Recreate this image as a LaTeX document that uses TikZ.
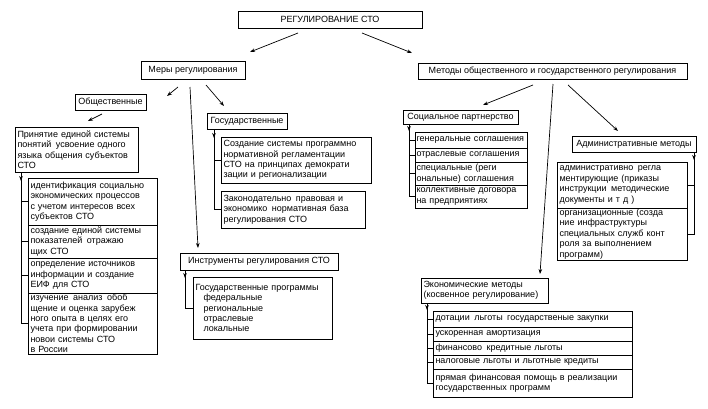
\documentclass[tikz,border=0pt]{standalone}
\usepackage{fontspec}
\setmainfont{Liberation Sans}
\usepackage{tikz}
\usetikzlibrary{calc}
\usetikzlibrary{arrows.meta}
\newcommand{\boxfont}{\fontsize{9}{10.4}\selectfont}
\tikzset{box/.style={draw, line width=0.8pt, inner xsep=2.5pt, inner ysep=1pt, outer sep=0pt, font=\boxfont},
head/.style={box, anchor=north west, align=center},
entry/.style={box, anchor=north west, align=left},
tight/.style={entry, inner xsep=1.5pt, text width=109},
arr/.style={-{Stealth[length=5pt,width=3.6pt]}, line width=0.7pt},
bracket/.style={line width=0.7pt}}

\begin{document}
\begin{tikzpicture}[x=1pt,y=1pt]
\useasboundingbox (0,0) rectangle (708,-408);
%\draw [help lines] (0,0) grid (708,-408);
% heads
\node[head, minimum width=184, minimum height=17] (reg) at (238,-11) {РЕГУЛИРОВАНИЕ СТО};
\node[head, minimum width=104, minimum height=18] (mery) at (141,-61) {Меры регулирования};
\node[head, minimum width=269, minimum height=16] (metody) at (418,-63) {Методы общественного и государственного регулирования};
\node[head, minimum width=71, minimum height=16] (obsh) at (75,-94) {Общественные};
\node[head, minimum width=80, minimum height=16] (gos) at (207,-113) {Государственные};
\node[head, minimum width=158, minimum height=17] (instr) at (180,-253) {Инструменты регулирования СТО};
\node[head, minimum width=115, minimum height=14] (soc) at (403,-110) {Социальное партнерство};
\node[head, minimum width=124, minimum height=16] (adm) at (572,-136) {Административные методы};
\node[entry, text width=122, minimum height=25] (econ) at (421,-278) {Экономические методы\\(косвенное регулирование)};
\node[entry, text width=118, minimum height=45] (prin) at (15,-127) {Принятие единой системы\\понятий\enspace усвоение одного\\языка общения субъектов\\СТО};

% public measures
\node[entry, text width=124, minimum height=47] (o1) at (28,-178) {идентификация социально\\экономических процессов\\с учетом интересов всех\\субъектов СТО};
\node[entry, text width=124, minimum height=33] (o2) at (28,-225) {создание единой системы\\показателей\enspace отражаю\\щих СТО};
\node[entry, text width=124, minimum height=35] (o3) at (28,-258) {определение источников\\информации и создание\\ЕИФ для СТО};
\node[entry, text width=124, minimum height=61] (o4) at (28,-293) {изучение\enspace анализ\enspace обоб\\щение и оценка зарубеж\\ного опыта в целях его\\учета при формировании\\новои системы СТО\\в России};

% state measures
\node[entry, text width=145, minimum height=46] (g1) at (221,-137) {Создание системы программно\\нормативной регламентации\\СТО на принципах демократи\\зации и регионализации};
\node[entry, text width=139, minimum height=37] (g2) at (221,-191) {Законодательно\enspace правовая и\\экономико\enspace нормативная база\\регулирования СТО};

% instruments
\node[entry, text width=134, minimum height=62] (i1) at (193,-277) {Государственные программы\\\hspace*{8pt}федеральные\\\hspace*{8pt}региональные\\\hspace*{8pt}отраслевые\\\hspace*{8pt}локальные};

% social partnership
\node[tight, minimum height=16] (s1) at (415,-132) {генеральные соглашения};
\node[tight, minimum height=14] (s2) at (415,-148) {отраслевые соглашения};
\node[tight, minimum height=23] (s3) at (415,-162) {специальные (реги\\ональные) соглашения};
\node[tight, minimum height=23] (s4) at (415,-185) {коллективные договора\\на предприятиях};

% administrative
\node[entry, text width=125, minimum height=46] (a1) at (557,-162) {административно\enspace регла\\ментирующие (приказы\\инструкции\enspace методические\\документы и т д )};
\node[entry, text width=125, minimum height=49] (a2) at (557,-208) {организационные (созда\\ние инфраструктуры\\специальных служб конт\\роля за выполнением\\программ)};

% economic
\node[entry, text width=194, minimum height=16] (e1) at (433,-311) {дотации\enspace льготы\enspace государственые закупки};
\node[entry, text width=194, minimum height=14] (e2) at (433,-327) {ускоренная амортизация};
\node[entry, text width=194, minimum height=14] (e3) at (433,-341) {финансово\enspace кредитные льготы};
\node[entry, text width=194, minimum height=14] (e4) at (433,-355) {налоговые льготы и льготные кредиты};
\node[entry, text width=194, minimum height=28] (e5) at (433,-369) {прямая финансовая помощь в реализации\\государственных программ};

% arrows between heads
\draw[arr] ($(reg.south)+(-32,-5)$) -- ($(mery.north east)+(5,9)$);
\draw[arr] ($(reg.south)+(32,-5)$) -- ($(metody.north west)+(-6,10)$);
\draw[arr] ($(mery.south)+(-15,-8)$) -- ($(obsh.north east)+(21,-2)$);
\draw[arr] ($(mery.south)+(13,-6)$) -- ($(gos.north west)+(17,7)$);
\draw[arr] ($(mery.south)+(-3,-8)$) -- ($(instr.north west)+(18,5)$);
\draw[arr] ($(obsh.south)+(-8.5,-4)$) -- ($(prin.north west)+(73,6)$);
\draw[arr] ($(metody.south)+(-19.5,-6)$) -- ($(soc.north)+(22.5,5)$);
\draw[arr] ($(metody.south)+(0.5,-5)$) -- ($(econ.north east)+(-8,4)$);
\draw[arr] ($(metody.south)+(15.5,-6)$) -- ($(adm.north west)+(46,5)$);

% brackets
\coordinate (bo) at ($(prin.south west)+(6,0)$);
\draw[bracket] (bo) |- (o4.west);
\foreach \n in {o1,o2,o3}
     \draw[bracket] (\n.west) -- (\n.west -| bo);
\draw[arr] (bo) -- ++(0,-9);

\coordinate (bg) at ($(gos.south west)+(7,0)$);
\draw[bracket] (bg) |- (g2.west);
\draw[bracket] (g1.west) -- (g1.west -| bg);
\draw[arr] (bg) -- ++(0,-9);

\coordinate (bi) at ($(instr.south west)+(5,0)$);
\draw[bracket] (bi) |- (i1.west);
\draw[arr] (bi) -- ++(0,-8);

\coordinate (bs) at ($(soc.south west)+(6,0)$);
\draw[bracket] (bs) |- (s4.west);
\foreach \n in {s1,s2,s3}
     \draw[bracket] (\n.west) -- (\n.west -| bs);
\draw[arr] (bs) -- ++(0,-7);

\coordinate (ba) at ($(adm.south east)+(-2,0)$);
\draw[bracket] (ba) |- (a2.east);
\draw[bracket] (a1.east) -- (a1.east -| ba);
\draw[arr] (ba) -- ++(0,-8);

\coordinate (be) at ($(econ.south west)+(6,0)$);
\draw[bracket] (be) |- (e5.west);
\foreach \n in {e1,e2,e3,e4}
     \draw[bracket] (\n.west) -- (\n.west -| be);
\draw[arr] (be) -- ++(0,-7);

\end{tikzpicture}
\end{document}
